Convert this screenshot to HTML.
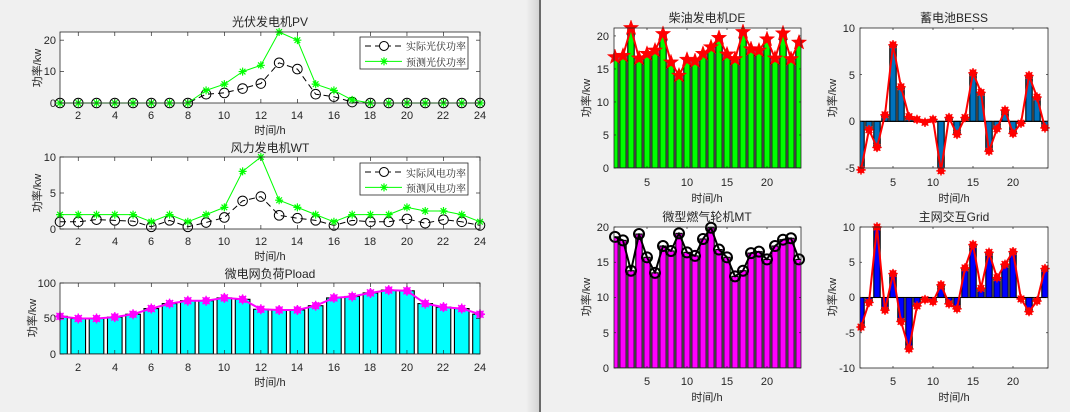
<!DOCTYPE html>
<html><head><meta charset="utf-8">
<style>
html,body{margin:0;padding:0;background:#f0f0f0;}
svg{display:block;}
text{font-family:"Liberation Sans","Noto Sans CJK SC",sans-serif;fill:#262626;}
.t{font-size:12px;text-anchor:middle;}
.k{font-size:11px;}
.xl{font-size:11px;text-anchor:middle;}
.yl{font-size:11px;text-anchor:end;}
.lg{font-size:10px;font-family:"Noto Serif CJK SC","Noto Sans CJK SC",serif;}
</style></head>
<body>
<svg id="s" width="1070" height="412" xmlns="http://www.w3.org/2000/svg">
<defs>
<linearGradient id="sh" x1="0" x2="1"><stop offset="0" stop-color="#f0f0f0"/><stop offset="1" stop-color="#d4d4d4"/></linearGradient>
</defs>
<rect x="0" y="0" width="1070" height="412" fill="#f0f0f0"/>
<rect x="526" y="0" width="13" height="412" fill="url(#sh)"/>
<rect x="539" y="0" width="2" height="412" fill="#6a6a6a"/>
<g id="plots"></g>

<!-- PV -->
<text class="t" x="270" y="26">光伏发电机PV</text>
<text class="yl" x="56" y="107">0</text><text class="yl" x="56" y="75">10</text><text class="yl" x="56" y="44">20</text>
<g class="xl"><text class="xl" x="78" y="119">2</text><text class="xl" x="115" y="119">4</text><text class="xl" x="151" y="119">6</text><text class="xl" x="188" y="119">8</text><text class="xl" x="224" y="119">10</text><text class="xl" x="261" y="119">12</text><text class="xl" x="297" y="119">14</text><text class="xl" x="334" y="119">16</text><text class="xl" x="370" y="119">18</text><text class="xl" x="407" y="119">20</text><text class="xl" x="443" y="119">22</text><text class="xl" x="480" y="119">24</text></g>
<text class="xl" x="270" y="134">时间/h</text>
<text class="k" transform="translate(41,68) rotate(-90)" text-anchor="middle">功率/kw</text>
<text class="lg" x="406" y="50">实际光伏功率</text><text class="lg" x="406" y="66">预测光伏功率</text>

<!-- WT -->
<text class="t" x="270" y="152">风力发电机WT</text>
<text class="yl" x="56" y="233">0</text><text class="yl" x="56" y="197">5</text><text class="yl" x="56" y="161">10</text>
<g><text class="xl" x="78" y="245">2</text><text class="xl" x="115" y="245">4</text><text class="xl" x="151" y="245">6</text><text class="xl" x="188" y="245">8</text><text class="xl" x="224" y="245">10</text><text class="xl" x="261" y="245">12</text><text class="xl" x="297" y="245">14</text><text class="xl" x="334" y="245">16</text><text class="xl" x="370" y="245">18</text><text class="xl" x="407" y="245">20</text><text class="xl" x="443" y="245">22</text><text class="xl" x="480" y="245">24</text></g>
<text class="xl" x="270" y="260">时间/h</text>
<text class="k" transform="translate(41,193) rotate(-90)" text-anchor="middle">功率/kw</text>
<text class="lg" x="406" y="177">实际风电功率</text><text class="lg" x="406" y="192">预测风电功率</text>

<!-- Pload -->
<text class="t" x="270" y="278">微电网负荷Pload</text>
<text class="yl" x="56" y="358">0</text><text class="yl" x="56" y="322">50</text><text class="yl" x="56" y="287">100</text>
<g><text class="xl" x="78" y="371">2</text><text class="xl" x="115" y="371">4</text><text class="xl" x="151" y="371">6</text><text class="xl" x="188" y="371">8</text><text class="xl" x="224" y="371">10</text><text class="xl" x="261" y="371">12</text><text class="xl" x="297" y="371">14</text><text class="xl" x="334" y="371">16</text><text class="xl" x="370" y="371">18</text><text class="xl" x="407" y="371">20</text><text class="xl" x="443" y="371">22</text><text class="xl" x="480" y="371">24</text></g>
<text class="xl" x="270" y="386">时间/h</text>
<text class="k" transform="translate(36,318) rotate(-90)" text-anchor="middle">功率/kw</text>

<!-- DE -->
<text class="t" x="707" y="22">柴油发电机DE</text>
<text class="yl" x="609" y="172">0</text><text class="yl" x="609" y="139">5</text><text class="yl" x="609" y="106">10</text><text class="yl" x="609" y="73">15</text><text class="yl" x="609" y="40">20</text>
<text class="xl" x="647" y="186">5</text><text class="xl" x="687" y="186">10</text><text class="xl" x="727" y="186">15</text><text class="xl" x="767" y="186">20</text>
<text class="xl" x="707" y="202">时间/h</text>
<text class="k" transform="translate(590,98) rotate(-90)" text-anchor="middle">功率/kw</text>

<!-- BESS -->
<text class="t" x="954" y="22">蓄电池BESS</text>
<text class="yl" x="855" y="172">-5</text><text class="yl" x="855" y="125">0</text><text class="yl" x="855" y="79">5</text><text class="yl" x="855" y="32">10</text>
<text class="xl" x="893" y="186">5</text><text class="xl" x="933" y="186">10</text><text class="xl" x="973" y="186">15</text><text class="xl" x="1013" y="186">20</text>
<text class="xl" x="954" y="202">时间/h</text>
<text class="k" transform="translate(836,98) rotate(-90)" text-anchor="middle">功率/kw</text>

<!-- MT -->
<text class="t" x="707" y="221">微型燃气轮机MT</text>
<text class="yl" x="609" y="372">0</text><text class="yl" x="609" y="337">5</text><text class="yl" x="609" y="301">10</text><text class="yl" x="609" y="266">15</text><text class="yl" x="609" y="231">20</text>
<text class="xl" x="647" y="385">5</text><text class="xl" x="687" y="385">10</text><text class="xl" x="727" y="385">15</text><text class="xl" x="767" y="385">20</text>
<text class="xl" x="707" y="401">时间/h</text>
<text class="k" transform="translate(590,297) rotate(-90)" text-anchor="middle">功率/kw</text>

<!-- Grid -->
<text class="t" x="954" y="221">主网交互Grid</text>
<text class="yl" x="855" y="372">-10</text><text class="yl" x="855" y="337">-5</text><text class="yl" x="855" y="301">0</text><text class="yl" x="855" y="266">5</text><text class="yl" x="855" y="231">10</text>
<text class="xl" x="893" y="385">5</text><text class="xl" x="933" y="385">10</text><text class="xl" x="973" y="385">15</text><text class="xl" x="1013" y="385">20</text>
<text class="xl" x="954" y="401">时间/h</text>
<text class="k" transform="translate(836,297) rotate(-90)" text-anchor="middle">功率/kw</text>
</svg>
<script>
var NS="http://www.w3.org/2000/svg",G=document.getElementById("plots"),cid=0;
function el(t,a,p){var e=document.createElementNS(NS,t);for(var k in a)e.setAttribute(k,a[k]);(p||G).appendChild(e);return e;}
function star5(x,y,r){var s="";for(var i=0;i<10;i++){var rr=i%2?r*0.4:r,a=-Math.PI/2+i*Math.PI/5;s+=(i?"L":"M")+(x+rr*Math.cos(a)).toFixed(1)+","+(y+rr*Math.sin(a)).toFixed(1);}return s+"Z";}
function ast(x,y,r){var s="";for(var i=0;i<4;i++){var a=i*Math.PI/4;s+="M"+(x-r*Math.cos(a))+","+(y-r*Math.sin(a))+"L"+(x+r*Math.cos(a))+","+(y+r*Math.sin(a));}return s;}
function plot(o){
 var X=function(h){return o.x0+(h-o.xmin)/(o.xmax-o.xmin)*(o.x1-o.x0);},
     Y=function(v){return o.y1-(v-o.ymin)/(o.ymax-o.ymin)*(o.y1-o.y0);};
 el("rect",{x:o.x0,y:o.y0,width:o.x1-o.x0,height:o.y1-o.y0,fill:"#fff"});
 var id="c"+(cid++);var cp=el("clipPath",{id:id});el("rect",{x:o.x0,y:o.y0,width:o.x1-o.x0,height:o.y1-o.y0},cp);
 var g=el("g",{"clip-path":"url(#"+id+")"});
 if(o.bars){var bw=0.8*(X(2)-X(1));o.bars.forEach(function(v,i){var y=Y(Math.max(v,0)),b=Y(Math.min(v,0));el("rect",{x:X(i+1)-bw/2,y:y,width:bw,height:Math.max(b-y,0.5),fill:o.bc,stroke:"#000","stroke-width":1.1},g);});
  if(o.ymin<0)el("line",{x1:o.x0,x2:o.x1,y1:Y(0),y2:Y(0),stroke:"#000","stroke-width":1},g);}
 var gm=el("g",{});
 (o.lines||[]).forEach(function(L){var d=L.v.map(function(v,i){return(i?"L":"M")+X(i+1).toFixed(1)+","+Y(v).toFixed(1);}).join("");
  el("path",{d:d,fill:"none",stroke:L.c,"stroke-width":L.w,"stroke-dasharray":L.dash||"none","stroke-linejoin":"round"},gm);
  L.v.forEach(function(v,i){var x=X(i+1),y=Y(v);
   if(L.m=="o")el("circle",{cx:x,cy:y,r:L.r,fill:L.fill||"none",stroke:L.c,"stroke-width":L.mw||1},gm);
   else if(L.m=="*")el("path",{d:ast(x,y,L.r),stroke:L.c,"stroke-width":1.2},gm);
   else if(L.m=="p")el("path",{d:star5(x,y,L.r),fill:L.c,stroke:L.c,"stroke-width":0.5},gm);
   else if(L.m=="f"){el("circle",{cx:x,cy:y,r:L.r,fill:L.c},gm);el("path",{d:ast(x,y,L.r+1.2),stroke:L.c,"stroke-width":1.4},gm);}
  });});
 // ticks
 var tl=o.tl||4;
 o.xt.forEach(function(h){var x=X(h);el("line",{x1:x,x2:x,y1:o.y1,y2:o.y1-tl,stroke:"#262626","stroke-width":0.7});el("line",{x1:x,x2:x,y1:o.y0,y2:o.y0+tl,stroke:"#262626","stroke-width":0.7});});
 o.yt.forEach(function(v){var y=Y(v);el("line",{x1:o.x0,x2:o.x0+tl,y1:y,y2:y,stroke:"#262626","stroke-width":0.7});el("line",{x1:o.x1,x2:o.x1-tl,y1:y,y2:y,stroke:"#262626","stroke-width":0.7});});
 el("rect",{x:o.x0,y:o.y0,width:o.x1-o.x0,height:o.y1-o.y0,fill:"none",stroke:"#262626","stroke-width":0.8});
 if(o.leg){var q=o.leg;el("rect",{x:q.x,y:q.y,width:q.w,height:q.h,fill:"#fff",stroke:"#262626","stroke-width":0.8});
  var y1=q.y+q.h*0.28,y2=q.y+q.h*0.76;
  el("line",{x1:q.x+5,x2:q.x+42,y1:y1,y2:y1,stroke:"#000","stroke-dasharray":"6,4"});el("circle",{cx:q.x+24,cy:y1,r:4.5,fill:"#fff",stroke:"#000"});
  el("line",{x1:q.x+5,x2:q.x+42,y1:y2,y2:y2,stroke:"#00ff00"});el("path",{d:ast(q.x+24,y2,4),stroke:"#00ff00","stroke-width":1.2});}
 return gm;
}
var ev=[2,4,6,8,10,12,14,16,18,20,22,24],h24=[];for(var i=1;i<=24;i++)h24.push(i);
plot({x0:60,x1:480,y0:32,y1:103,xmin:1,xmax:24,ymin:0,ymax:22.6,xt:ev,yt:[0,10,20],
 lines:[{v:[0,0,0,0,0,0,0,0,2.8,3.2,4.6,6.2,12.8,10.8,2.8,2,0.3,0,0,0,0,0,0,0],c:"#000",w:1,dash:"6,4",m:"o",r:4.8},
 {v:[0,0,0,0,0,0,0,0,4,6,10,12,22.6,20,6,4,1,0,0,0,0,0,0,0],c:"#00ff00",w:1,m:"*",r:4}],
 leg:{x:360,y:37,w:108,h:32}});
plot({x0:60,x1:480,y0:157,y1:229,xmin:1,xmax:24,ymin:0,ymax:10,xt:ev,yt:[0,5,10],
 lines:[{v:[1,1,1.3,1.2,1.1,0.3,1.2,0.3,0.9,1.6,3.9,4.5,1.9,1.5,1.2,0.5,1.2,1,1,1.4,0.8,1.3,1,0.5],c:"#000",w:1,dash:"6,4",m:"o",r:4.8},
 {v:[2,2,2,2,2,1,2,1,2,3,8,10,4,3,2,1,2,2,2,3,2.5,2.5,2,1],c:"#00ff00",w:1,m:"*",r:4}],
 leg:{x:360,y:163,w:108,h:32}});
var pl=[53,50,50,52,56,64,71,75,75,79,77,63,62,62,68,79,81,86,90,89,71,66,64,56];
plot({x0:60,x1:480,y0:283,y1:354,xmin:1,xmax:24,ymin:0,ymax:100,xt:ev,yt:[0,50,100],bars:pl,bc:"#00ffff",
 lines:[{v:pl,c:"#ff00ff",w:2,m:"f",r:3.8}]});
var h5=[5,10,15,20];
var de=[16.8,17,21.2,16.6,17.3,17.8,20.3,16,14,16.4,16.2,17.3,18.3,19.7,17.2,16.5,20.6,18,17.8,19.5,16.6,20.4,16.5,19];
plot({x0:614,x1:801,y0:28,y1:168,xmin:0.875,xmax:24.25,ymin:0,ymax:21.2,xt:h5,yt:[0,5,10,15,20],tl:2,bars:de,bc:"#00ff00",
 lines:[{v:de,c:"#ff0000",w:2,m:"p",r:8}]});
var be=[-5.2,-0.9,-2.8,0.7,8.2,3.7,0.5,0.2,-0.1,0.2,-5.3,0.4,-1.4,0.4,5.2,3.1,-3.2,-0.8,1.2,-1.3,-0.2,4.9,2.6,-0.7];
plot({x0:860,x1:1048,y0:28,y1:168,xmin:0.875,xmax:24.375,ymin:-5,ymax:10,xt:h5,yt:[-5,0,5,10],tl:2,bars:be,bc:"#0072bd",
 lines:[{v:be,c:"#ff0000",w:2,m:"f",r:3.5}]});
var mt=[18.6,18.1,13.8,19,15.7,13.5,17.3,16.6,19.1,16.4,15.9,18.3,19.9,16.8,15.7,13,13.8,16.3,16.5,15.4,17.3,18.2,18.4,15.4];
plot({x0:614,x1:801,y0:227,y1:368,xmin:0.875,xmax:24.25,ymin:0,ymax:20,xt:h5,yt:[0,5,10,15,20],tl:2,bars:mt,bc:"#ff00ff",
 lines:[{v:mt,c:"#000",w:2,m:"o",r:5,mw:2}]});
var gr=[-4.2,-0.7,10,-1.8,3.4,-3.4,-7.3,-1.2,-0.3,-0.6,1.8,-0.9,-1.6,4.2,7.5,1.3,6.4,2.8,4.7,6.5,-0.2,-2,-0.5,4.1];
plot({x0:860,x1:1048,y0:227,y1:368,xmin:0.875,xmax:24.375,ymin:-10,ymax:10,xt:h5,yt:[-10,-5,0,5,10],tl:2,bars:gr,bc:"#0000ff",
 lines:[{v:gr,c:"#ff0000",w:2,m:"f",r:3.5}]});
</script>
</body></html>
